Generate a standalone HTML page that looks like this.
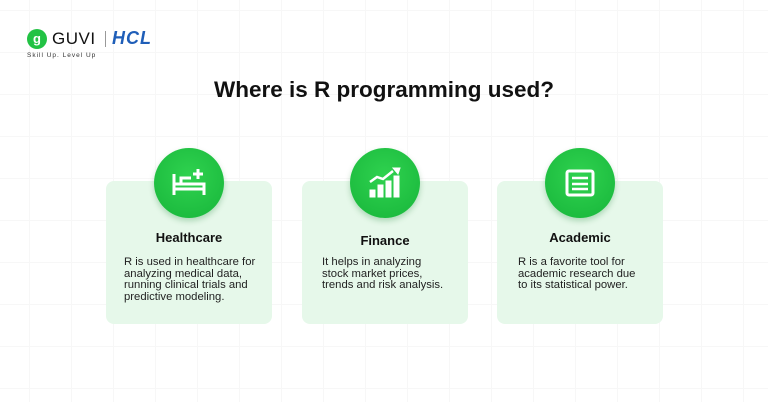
<!DOCTYPE html>
<html><head><style>
body{margin:0;width:768px;height:402px;overflow:hidden;background:#fff;font-family:"Liberation Sans",sans-serif;position:relative;
background-image:linear-gradient(#f7f7f7 1px,transparent 1px),linear-gradient(90deg,#f7f7f7 1px,transparent 1px);background-size:42px 42px;background-position:-13px 10px}
.card{position:absolute;top:181px;width:166px;height:143px;background:#e6f8ea;border-radius:8px}
.circ{position:absolute;top:148px;width:70px;height:70px;border-radius:50%;background:radial-gradient(circle at 50% 40%,#2fd24f,#17b53a);box-shadow:0 3px 6px rgba(0,120,30,.25)}
.circ svg{position:absolute;left:17px;top:17px}
.h{position:absolute;width:166px;text-align:center;font-weight:bold;font-size:13px;color:#111}
.p{position:absolute;font-size:11.3px;line-height:11.6px;color:#222;white-space:nowrap}
</style></head><body>
<div style="position:absolute;left:27px;top:29px;width:20px;height:20px;border-radius:50%;background:#22c244;color:#fff;font-size:13px;font-weight:bold;text-align:center;line-height:20px">ɡ</div>
<div style="position:absolute;left:52px;top:29px;font-size:17px;color:#111;letter-spacing:0.5px">GUVI</div>
<div style="position:absolute;left:105px;top:31px;width:1px;height:16px;background:#999"></div>
<div style="position:absolute;left:112px;top:28px;font-size:18px;font-weight:bold;font-style:italic;color:#1f5eb8;letter-spacing:1px">HCL</div>
<div style="position:absolute;left:27px;top:52px;font-size:6.5px;color:#333;letter-spacing:1px">Skill Up. Level Up</div>
<div style="position:absolute;left:0;width:768px;top:77px;text-align:center;font-size:22.5px;font-weight:bold;color:#111">Where is R programming used?</div>

<div class="card" style="left:106px"></div>
<div class="card" style="left:302px"></div>
<div class="card" style="left:497px"></div>

<div class="circ" style="left:154px"><svg width="36" height="36" viewBox="0 0 36 36" fill="none" stroke="#fff" stroke-width="3"><path d="M3 9v21M3 24h30v6M3 19h30v5M10 19v-6h10"/><path d="M27 4v10M22 9h10"/></svg></div>
<div class="circ" style="left:350px"><svg width="36" height="36" viewBox="0 0 36 36" fill="#fff" stroke="#fff"><rect x="3" y="25" width="5" height="7"/><rect x="11" y="20" width="5" height="12"/><rect x="19" y="16" width="5" height="16"/><rect x="27" y="11" width="5" height="21"/><path d="M3 17l7-5 6 2 10-8" fill="none" stroke-width="2.5"/><path d="M26 3l7 0-2 6z"/></svg></div>
<div class="circ" style="left:545px"><svg width="36" height="36" viewBox="0 0 36 36" fill="none" stroke="#fff" stroke-width="3"><rect x="5" y="6" width="26" height="24" rx="2"/><path d="M10 13h16M10 19h16M10 24h16" stroke-width="2.5"/></svg></div>

<div class="h" style="left:106px;top:230px">Healthcare</div>
<div class="h" style="left:302px;top:233px">Finance</div>
<div class="h" style="left:497px;top:230px">Academic</div>

<div class="p" style="left:124px;top:257px">R is used in healthcare for<br>analyzing medical data,<br>running clinical trials and<br>predictive modeling.</div>
<div class="p" style="left:322px;top:257px">It helps in analyzing<br>stock market prices,<br>trends and risk analysis.</div>
<div class="p" style="left:518px;top:257px">R is a favorite tool for<br>academic research due<br>to its statistical power.</div>
</body></html>
